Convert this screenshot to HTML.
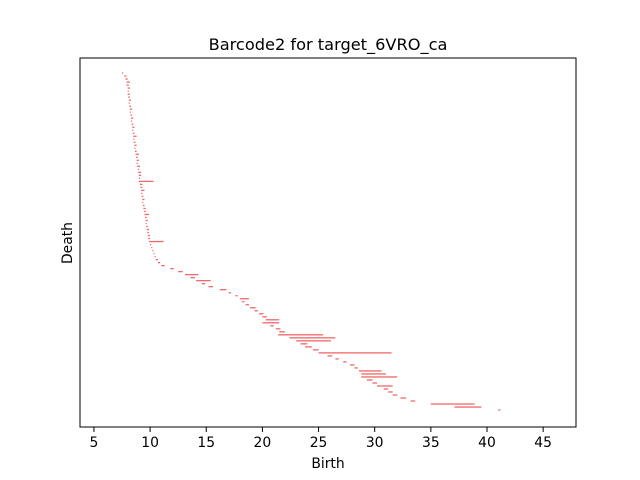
<!DOCTYPE html>
<html><head><meta charset="utf-8"><style>
body{margin:0;background:#fff}
svg{display:block;font-family:"DejaVu Sans","Liberation Sans",sans-serif}
</style></head><body>
<svg id="chart" width="640" height="480" viewBox="0 0 640 480">
<rect x="0" y="0" width="640" height="480" fill="#fff"/>
<text x="328" y="50" font-size="16.2" text-anchor="middle">Barcode2 for target_6VRO_ca</text>
<g id="bars"></g>
<rect x="80" y="58" width="496" height="369" fill="none" stroke="#000" stroke-width="1"/>
<g id="xticks"></g>
<text x="328" y="468" font-size="13.9" text-anchor="middle">Birth</text>
<text x="72" y="243" font-size="13.9" text-anchor="middle" transform="rotate(-90 72 243)">Death</text>
</svg>
<script>
const births=[7.5,7.7,7.8,7.9,7.9,8.0,8.0,8.0,8.05,8.1,8.1,8.15,8.2,8.2,8.25,8.3,8.3,8.35,8.4,8.4,8.45,8.5,8.5,8.55,8.6,8.6,8.65,8.7,8.75,8.8,8.8,8.85,8.9,8.95,9.0,9.0,9.0,9.1,9.15,9.2,9.2,9.25,9.3,9.3,9.35,9.4,9.45,9.5,9.55,9.6,9.6,9.65,9.7,9.75,9.8,9.85,9.9,10.0,10.1,10.2,10.3,10.4,10.5,10.7,11.0,11.8,12.5,13.1,13.6,14.1,14.6,15.2,16.2,17.0,17.6,18.0,18.2,18.5,18.9,19.3,19.7,20.0,20.3,20.0,20.7,21.2,21.5,21.4,22.4,23.0,23.4,23.8,24.5,25.0,25.8,26.5,27.2,27.8,28.2,28.6,28.8,28.8,29.3,29.8,30.2,30.8,31.2,31.6,32.3,33.2,35.0,37.1,41.0];
const deaths=[7.6,7.9,8.0,8.2,8.1,8.2,8.1,8.2,8.2,8.3,8.2,8.3,8.4,8.3,8.4,8.5,8.4,8.5,8.6,8.5,8.6,8.8,8.6,8.7,8.8,8.7,8.8,9.0,8.9,9.0,8.9,9.1,9.0,9.2,9.2,9.1,10.3,9.3,9.3,9.5,9.3,9.4,9.5,9.4,9.5,9.6,9.6,9.9,9.7,9.8,9.7,9.8,9.9,9.9,10.0,10.0,11.2,10.1,10.2,10.3,10.4,10.5,10.7,10.9,11.3,12.1,12.9,14.3,14.0,15.4,14.9,15.6,16.8,17.2,17.8,18.8,18.4,18.8,19.4,19.6,20.1,20.4,21.5,21.5,21.0,21.6,22.0,25.4,26.5,26.1,24.0,24.4,25.0,31.5,26.2,26.8,27.5,28.2,28.5,30.6,31.0,32.0,29.8,30.2,31.6,31.2,31.6,32.0,32.8,33.6,38.9,39.5,41.2];
const xTicks=[5,10,15,20,25,30,35,40,45];
const xs=v=>37.8+v*11.23;
const rowY=i=>73+i*(337/(births.length-1));
const NS="http://www.w3.org/2000/svg";
const bg=document.getElementById('bars');
births.forEach((b,i)=>{
  const r=document.createElementNS(NS,'rect');
  r.setAttribute('x',xs(b));
  r.setAttribute('y',rowY(i)-0.6);
  r.setAttribute('width',Math.max(1,xs(deaths[i])-xs(b)));
  r.setAttribute('height',1.3);
  r.setAttribute('fill','#f06868');
  
  
  bg.appendChild(r);
});
const xt=document.getElementById('xticks');
xTicks.forEach(t=>{
  const l=document.createElementNS(NS,'line');
  l.setAttribute('x1',xs(t));l.setAttribute('x2',xs(t));
  l.setAttribute('y1',427);l.setAttribute('y2',432);
  l.setAttribute('stroke','#000');
  
  
  xt.appendChild(l);
  const tx=document.createElementNS(NS,'text');
  tx.setAttribute('x',xs(t));tx.setAttribute('y',447);
  tx.setAttribute('font-size','13.9');tx.setAttribute('text-anchor','middle');
  tx.textContent=t;
  
  
  xt.appendChild(tx);
});
</script>
</body></html>
